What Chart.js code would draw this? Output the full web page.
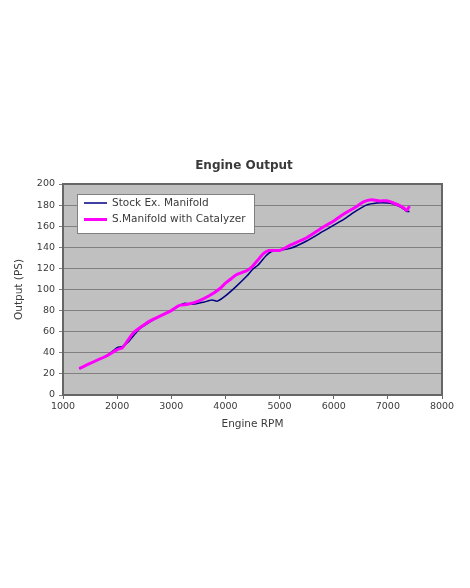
<!DOCTYPE html>
<html>
<head>
<meta charset="utf-8">
<script src="https://cdn.jsdelivr.net/npm/chart.js@4"></script>
<style>
  html, body { margin: 0; padding: 0; background: #fff; }
  #wrap { width: 470px; height: 588px; }
</style>
</head>
<body>
<div id="wrap"><canvas id="engineChart" width="470" height="588"></canvas></div>
<script>
// data
const stockRpm = [1300, 1500, 1800, 2000, 2100, 2200, 2300, 2400, 2600, 2800, 3000, 3150, 3250, 3400, 3600, 3750, 3850, 4000, 4200, 4400, 4500, 4600, 4750, 4850, 5000, 5200, 5500, 5800, 6000, 6200, 6400, 6600, 6800, 7000, 7100, 7200, 7300, 7350, 7400];
const stockPs  = [25, 30, 37, 45, 46, 50, 56, 62, 69, 75, 80, 85, 87, 86, 88, 90, 89, 94, 103, 113, 119, 123, 132, 136, 137, 139, 146, 155, 161, 167, 174, 180, 182, 182, 181, 179, 176, 174, 174];

const catRpm = [1300, 1500, 1800, 2000, 2100, 2200, 2300, 2400, 2600, 2800, 3000, 3150, 3300, 3500, 3700, 3900, 4000, 4100, 4200, 4300, 4400, 4500, 4600, 4700, 4800, 5000, 5200, 5500, 5800, 6000, 6200, 6400, 6550, 6700, 6850, 7000, 7100, 7200, 7300, 7350, 7400];
const catPs  = [25, 30, 37, 43, 45, 52, 59, 63, 70, 75, 80, 85, 86, 89, 94, 101, 106, 110, 114, 116, 118, 122, 128, 134, 137, 137, 142, 149, 159, 165, 172, 178, 183, 185, 184, 184, 182, 180, 177, 175, 179];

const seriesLabels = ['Stock Ex. Manifold', 'S.Manifold with Catalyzer'];
const seriesColors = ['#000080', '#ff00ff'];
const xTicks = [1000, 2000, 3000, 4000, 5000, 6000, 7000, 8000];
const yTicks = [0, 20, 40, 60, 80, 100, 120, 140, 160, 180, 200];

const FONT = '"DejaVu Sans", Verdana, sans-serif';
const TEXT = '#3a3a3a';

function toPoints(xs, ys) {
    return xs.map((x, i) => ({ x: x, y: ys[i] }));
}

// gray plot background + frame
const plotFrame = {
    id: 'plotFrame',
    beforeDraw(chart) {
        const { ctx, chartArea: a } = chart;
        ctx.save();
        ctx.fillStyle = '#c0c0c0';
        ctx.fillRect(a.left, a.top, a.right - a.left, a.bottom - a.top);
        ctx.restore();
    },
    afterDatasetsDraw(chart) {
        const { ctx, chartArea: a } = chart;
        ctx.save();
        ctx.strokeStyle = '#666';
        ctx.lineWidth = 2;
        ctx.strokeRect(a.left, a.top, a.right - a.left, a.bottom - a.top);
        ctx.restore();
    }
};

// title + legend box inside the plot, like the original spreadsheet chart
const overlay = {
    id: 'overlay',
    afterDraw(chart) {
        const ctx = chart.ctx;
        ctx.save();
        ctx.fillStyle = TEXT;
        ctx.font = 'bold 12px ' + FONT;
        ctx.textAlign = 'center';
        ctx.textBaseline = 'middle';
        ctx.fillText('Engine Output', 244, 166);

        const bx = 77, by = 194, bw = 177, bh = 39;
        ctx.fillStyle = '#fff';
        ctx.fillRect(bx, by, bw, bh);
        ctx.strokeStyle = '#808080';
        ctx.lineWidth = 1;
        ctx.strokeRect(bx + 0.5, by + 0.5, bw, bh);

        chart.data.datasets.forEach((ds, i) => {
            const y = by + 9 + i * 16.5;
            ctx.strokeStyle = ds.borderColor;
            ctx.lineWidth = ds.borderWidth;
            ctx.beginPath();
            ctx.moveTo(84, y);
            ctx.lineTo(107, y);
            ctx.stroke();
            ctx.fillStyle = TEXT;
            ctx.font = '10.5px ' + FONT;
            ctx.textAlign = 'left';
            ctx.fillText(ds.label, 112, y);
        });
        ctx.restore();
    }
};

const ctx = document.getElementById('engineChart').getContext('2d');
new Chart(ctx, {
    type: 'line',
    data: {
        datasets: [
            // magenta drawn on top of the navy line
            { label: seriesLabels[0], data: toPoints(stockRpm, stockPs), borderColor: seriesColors[0], borderWidth: 1.5, pointRadius: 0, tension: 0.2, order: 2 },
            { label: seriesLabels[1], data: toPoints(catRpm, catPs), borderColor: seriesColors[1], borderWidth: 3, pointRadius: 0, tension: 0.2, order: 1 }
        ]
    },
    options: {
        responsive: false,
        animation: false,
        layout: { padding: { top: 184, right: 28, bottom: 153, left: 9 } },
        scales: {
            x: {
                type: 'linear', min: 1000, max: 8000,
                afterBuildTicks: s => { s.ticks = xTicks.map(v => ({ value: v })); },
                afterFit: s => { s.height = 40; },
                grid: { drawOnChartArea: false, drawTicks: true, tickLength: 4, color: '#666' },
                border: { display: false },
                ticks: { color: TEXT, font: { family: FONT, size: 9.5 }, padding: 2, maxRotation: 0, callback: v => String(v) },
                title: { display: true, text: 'Engine RPM', color: TEXT, font: { family: FONT, size: 10.5 }, padding: { top: 2, bottom: 4 } }
            },
            y: {
                min: 0, max: 200,
                afterBuildTicks: s => { s.ticks = yTicks.map(v => ({ value: v })); },
                afterFit: s => { s.width = 54; },
                grid: { color: '#808080', lineWidth: 1, tickLength: 4 },
                border: { display: false },
                ticks: { color: TEXT, font: { family: FONT, size: 9.5 }, padding: 4, callback: v => String(v) },
                title: { display: true, text: 'Output (PS)', color: TEXT, font: { family: FONT, size: 10.5 }, padding: { top: 4, bottom: 4 } }
            }
        },
        plugins: {
            legend: { display: false },
            title: { display: false },
            tooltip: { enabled: false }
        }
    },
    plugins: [plotFrame, overlay]
});
</script>
</body>
</html>
